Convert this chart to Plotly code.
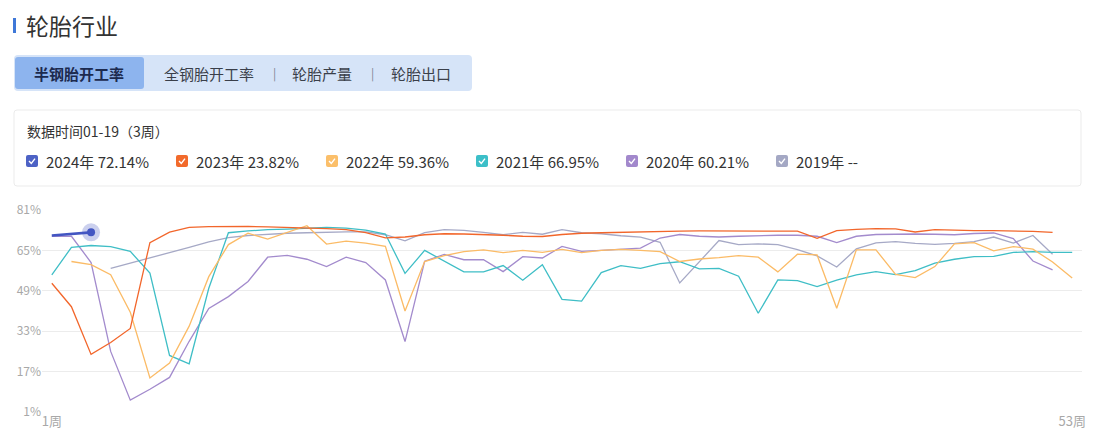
import plotly.graph_objects as go

# ---------------- data ----------------
weeks = list(range(1, 54))
x_tick_vals = [1, 53]
x_tick_text = ["1周", "53周"]
y_tick_vals = [1, 17, 33, 49, 65, 81]
current_week = 3
date_label = "01-19"

title_text = "轮胎行业"
tabs = ["半钢胎开工率", "全钢胎开工率", "轮胎产量", "轮胎出口"]

years = ["2024", "2023", "2022", "2021", "2020", "2019"]
colors = ["#4356c2", "#f2662b", "#fbbb66", "#3fbec6", "#a38bcd", "#a6a9c6"]
box_colors = ["#4d62c5", "#f26a2b", "#fbbf6a", "#3cbfc8", "#a288cc", "#a4a8c4"]

N = None
v2024 = [70.9, 71.6, 72.14]
v2023 = [52.0, 42.7, 23.82, 28.5, 34.1, 68.1, 72.2, 74.1, 74.4, 74.5,
         74.5, 74.3, 74.1, 74.0, 73.6, 73.2, 72.0, 70.0, 70.3, 71.2,
         71.6, 71.5, 71.3, 71.0, 70.6, 70.5, 71.3, 71.8, 72.0, 72.2,
         72.4, 72.5, 72.6, 72.7, 72.7, 72.8, 72.8, 72.8, 72.6, 69.8,
         72.8, 73.3, 73.6, 73.5, 72.3, 73.2, 72.9, 72.8, 72.8, 72.8,
         72.5, 72.1]
v2022 = [N, 60.6, 59.36, 55.4, 40.5, 14.5, 20.4, 35.0, 54.6, 67.3,
         71.8, 69.5, 72.1, 74.8, 67.5, 68.7, 67.9, 66.6, 41.0, 60.6,
         62.9, 64.5, 65.2, 64.1, 65.0, 64.2, 65.4, 64.1, 65.0, 65.4,
         65.0, 64.5, 60.6, 61.6, 62.1, 62.9, 62.3, 56.5, 63.5, 63.2,
         42.1, 65.2, 65.2, 55.5, 54.2, 58.6, 67.6, 68.1, 64.8, 66.5,
         65.5, 60.4, 54.1]
v2021 = [55.3, 66.2, 66.95, 66.5, 64.6, 56.0, 23.4, 20.1, 50.0, 72.0,
         72.7, 73.2, 73.4, 73.8, 74.1, 73.8, 73.0, 71.5, 55.9, 65.0,
         60.6, 56.5, 56.5, 59.0, 53.2, 59.3, 45.6, 44.9, 56.2, 59.0,
         57.9, 59.8, 60.5, 57.7, 57.9, 54.8, 40.1, 53.3, 53.0, 50.7,
         53.2, 55.3, 56.6, 55.4, 57.0, 60.0, 61.5, 62.5, 62.6, 64.2,
         64.5, 64.2, 64.2]
v2020 = [70.6, 70.6, 60.21, 25.0, 5.7, 10.0, 14.7, 29.0, 42.0, 46.7,
         52.7, 62.3, 63.0, 61.5, 58.6, 62.3, 60.2, 53.3, 28.9, 60.7,
         63.4, 61.3, 61.3, 56.6, 62.5, 62.0, 66.6, 64.6, 65.0, 65.5,
         65.9, 69.9, 71.3, 70.6, 70.3, 70.6, 70.9, 71.0, 71.0, 70.6,
         68.1, 70.6, 71.3, 71.5, 71.5, 71.4, 71.2, 71.7, 71.9, 69.7,
         60.8, 57.3]
v2019 = [N, N, N, 57.9, 59.9, 61.9, 64.2, 66.2, 68.4, 70.1,
         70.9, 71.5, 71.8, 72.0, 72.2, 72.3, 72.3, 71.2, 68.8, 72.0,
         73.2, 72.9, 72.1, 71.2, 72.1, 71.4, 73.2, 72.0, 71.6, 70.8,
         70.3, 68.2, 52.1, 60.5, 68.9, 67.3, 67.6, 67.3, 65.3, 62.8,
         58.4, 65.6, 68.0, 68.5, 67.8, 67.4, 67.8, 68.5, 70.3, 67.9,
         70.9, 63.5]
series = [v2024, v2023, v2022, v2021, v2020, v2019]

# ---------------- layout helpers ----------------
W, H = 1093, 430
L, R, T, B = 42, 1082, 210, 412


def px(x):
    return (x - L) / (R - L)


def py(y):
    return (B - y) / (B - T)


def rrect_path(x0, y0, x1, y1, r):
    p = [
        f"M{px(x0 + r)},{py(y0)}",
        f"L{px(x1 - r)},{py(y0)}",
        f"Q{px(x1)},{py(y0)} {px(x1)},{py(y0 + r)}",
        f"L{px(x1)},{py(y1 - r)}",
        f"Q{px(x1)},{py(y1)} {px(x1 - r)},{py(y1)}",
        f"L{px(x0 + r)},{py(y1)}",
        f"Q{px(x0)},{py(y1)} {px(x0)},{py(y1 - r)}",
        f"L{px(x0)},{py(y0 + r)}",
        f"Q{px(x0)},{py(y0)} {px(x0 + r)},{py(y0)}",
        "Z",
    ]
    return " ".join(p)


FONT = "Noto Sans CJK SC, Microsoft YaHei, sans-serif"

fig = go.Figure()

# draw older years first so 2024 sits on top
for i in reversed(range(len(years))):
    vals = series[i]
    fig.add_trace(go.Scatter(
        x=weeks[:len(vals)], y=vals, mode="lines",
        line=dict(color=colors[i], width=2.6 if i == 0 else 1.3),
        name=years[i] + "年", hoverinfo="skip", showlegend=False,
        connectgaps=False,
    ))

# highlight marker on the latest 2024 point
last_x = weeks[len(v2024) - 1]
last_y = v2024[-1]
fig.add_trace(go.Scatter(x=[last_x], y=[last_y], mode="markers",
                         marker=dict(size=18, color=colors[0], opacity=0.28),
                         hoverinfo="skip", showlegend=False))
fig.add_trace(go.Scatter(x=[last_x], y=[last_y], mode="markers",
                         marker=dict(size=8, color=colors[0]),
                         hoverinfo="skip", showlegend=False))

shapes = []
annotations = []

# title bar + title
shapes.append(dict(type="rect", xref="paper", yref="paper",
                   x0=px(13), x1=px(16), y0=py(33), y1=py(18),
                   fillcolor="#3f78d8", line=dict(width=0)))
annotations.append(dict(text=title_text, x=px(24), y=py(25), xref="paper", yref="paper",
                        xanchor="left", yanchor="middle", showarrow=False,
                        font=dict(family=FONT, size=23, color="#333333")))

# tab bar
shapes.append(dict(type="path", xref="paper", yref="paper",
                   path=rrect_path(14, 55, 472, 91, 4),
                   fillcolor="#d6e4f8", line=dict(width=0)))
shapes.append(dict(type="path", xref="paper", yref="paper",
                   path=rrect_path(15, 57, 144, 89, 3),
                   fillcolor="#8db4ee", line=dict(width=0)))
tab_centers = [79, 209, 322, 421]
for k, (t, cx) in enumerate(zip(tabs, tab_centers)):
    annotations.append(dict(
        text=f"<b>{t}</b>" if k == 0 else t, x=px(cx), y=py(73),
        xref="paper", yref="paper", xanchor="center", yanchor="middle",
        showarrow=False,
        font=dict(family=FONT, size=15, color="#1c2a4e" if k == 0 else "#3a3f4a")))
for sx in [274, 372]:
    annotations.append(dict(text="|", x=px(sx), y=py(73), xref="paper", yref="paper",
                            xanchor="center", yanchor="middle", showarrow=False,
                            font=dict(family=FONT, size=12, color="#7a8494")))

# legend card
shapes.append(dict(type="path", xref="paper", yref="paper",
                   path=rrect_path(14, 110, 1081, 186, 3),
                   fillcolor="white", line=dict(color="#ebebeb", width=1)))
annotations.append(dict(text=f"数据时间{date_label}（{current_week}周）",
                        x=px(25), y=py(131), xref="paper", yref="paper",
                        xanchor="left", yanchor="middle", showarrow=False,
                        font=dict(family=FONT, size=14, color="#333333")))
for i, yr in enumerate(years):
    vals = series[i]
    v = vals[current_week - 1] if len(vals) >= current_week else None
    label = f"{yr}年 {v:.2f}%" if v is not None else f"{yr}年 --"
    bx = 26 + 150 * i
    shapes.append(dict(type="path", xref="paper", yref="paper",
                       path=rrect_path(bx, 155, bx + 12, 167, 2),
                       fillcolor=box_colors[i], line=dict(width=0)))
    shapes.append(dict(type="path", xref="paper", yref="paper",
                       path=f"M{px(bx + 3)},{py(161)} L{px(bx + 5.3)},{py(163.4)} L{px(bx + 9)},{py(158.6)}",
                       line=dict(color="white", width=1.4)))
    annotations.append(dict(text=label, x=px(bx + 18), y=py(161.5), xref="paper", yref="paper",
                            xanchor="left", yanchor="middle", showarrow=False,
                            font=dict(family=FONT, size=15, color="#333333")))

fig.update_layout(
    width=W, height=H,
    margin=dict(l=L, r=W - R, t=T, b=H - B, pad=0),
    paper_bgcolor="white", plot_bgcolor="white",
    shapes=shapes, annotations=annotations,
    showlegend=False,
    font=dict(family=FONT),
    xaxis=dict(range=[0.5, 53.5], tickvals=x_tick_vals, ticktext=x_tick_text,
               showgrid=False, zeroline=False, showline=False,
               tickfont=dict(family=FONT, size=13, color="#a8a8a8"),
               fixedrange=True, automargin=False),
    yaxis=dict(range=[1, 81], tickvals=y_tick_vals,
               ticktext=[f"{v}%" for v in y_tick_vals],
               showgrid=True, gridcolor="#ececec", gridwidth=1,
               zeroline=False, showline=False,
               tickfont=dict(family=FONT, size=12, color="#a8a8a8"),
               fixedrange=True, automargin=False),
)

fig.write_html(
    "out.html",
    config={"displayModeBar": False},
    post_script="document.body.style.margin='0';document.body.style.overflow='hidden';",
)
